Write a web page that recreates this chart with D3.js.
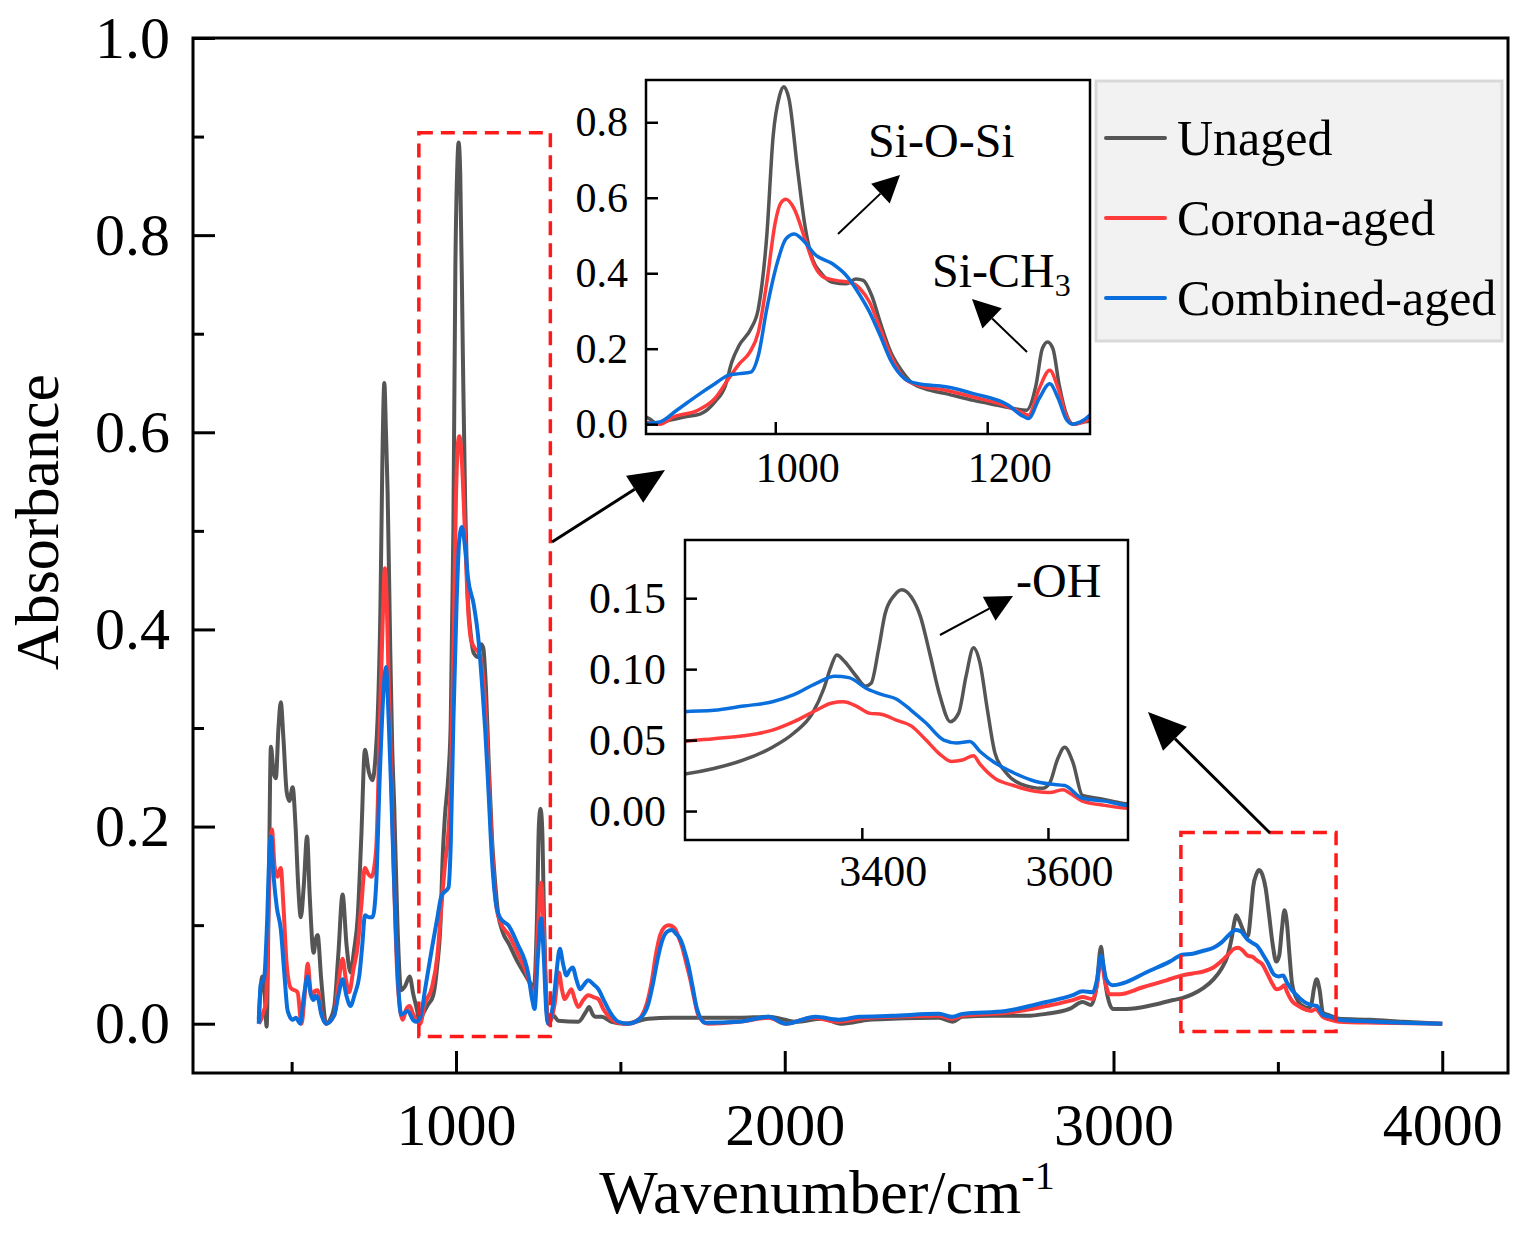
<!DOCTYPE html>
<html>
<head>
<meta charset="utf-8">
<script src="https://cdn.jsdelivr.net/npm/d3@7"></script>
<style>
  body { margin: 0; background: #fff; }
</style>
</head>
<body>
<div id="chart"></div>
<script>
// FTIR spectra, [wavenumber cm-1, absorbance]
const unaged = [
  [400,0.005],[411,0.048],[418,0.03],[424,-0.003],[430,0.12],[437,0.281],[445,0.255],[452,0.249],[460,0.3],[467,0.326],
  [475,0.29],[485,0.235],[493,0.226],[503,0.24],[512,0.2],[520,0.14],[528,0.108],[537,0.14],[547,0.19],[555,0.13],
  [567,0.072],[573,0.085],[579,0.09],[590,0.045],[605,0.0],[618,0.005],[630,0.018],[642,0.07],[655,0.131],[667,0.08],
  [679,0.052],[690,0.075],[701,0.108],[712,0.19],[723,0.278],[735,0.255],[746,0.247],[755,0.27],[762,0.313],[770,0.42],
  [776,0.57],[782,0.65],[787,0.6],[792,0.539],[800,0.38],[806,0.28],[812,0.222],[822,0.1],[833,0.034],[845,0.038],
  [859,0.048],[870,0.03],[882,0.013],[888,0.002],[901,0.011],[914,0.019],[930,0.028],[943,0.059],[953,0.103],[959,0.165],
  [966,0.209],[977,0.253],[984,0.306],[992,0.5],[998,0.764],[1004,0.87],[1008,0.894],[1013,0.861],[1021,0.676],[1028,0.526],
  [1034,0.447],[1044,0.398],[1054,0.376],[1067,0.372],[1076,0.385],[1083,0.381],[1091,0.341],[1099,0.27],[1109,0.191],[1119,0.143],
  [1128,0.112],[1141,0.094],[1161,0.081],[1187,0.063],[1210,0.05],[1226,0.041],[1237,0.037],[1246,0.103],[1252,0.2],[1257,0.218],
  [1262,0.2],[1268,0.103],[1275,0.024],[1281,0.0],[1291,0.006],[1297,0.008],[1311,0.003],[1372,0.002],[1395,0.012],[1405,0.017],
  [1415,0.01],[1423,0.007],[1443,0.007],[1473,0.002],[1514,0.0],[1585,0.005],[1656,0.006],[1758,0.006],[1860,0.006],[1951,0.007],
  [2000,0.004],[2033,0.002],[2114,0.005],[2175,0.0],[2256,0.004],[2327,0.005],[2469,0.006],[2510,0.002],[2540,0.007],[2632,0.008],
  [2734,0.008],[2795,0.01],[2866,0.015],[2906,0.022],[2932,0.019],[2949,0.039],[2962,0.078],[2970,0.055],[2978,0.035],[2998,0.015],
  [3039,0.015],[3120,0.019],[3181,0.024],[3209,0.026],[3241,0.03],[3273,0.036],[3304,0.045],[3327,0.055],[3347,0.069],[3359,0.086],
  [3367,0.102],[3373,0.11],[3382,0.105],[3394,0.095],[3404,0.088],[3410,0.09],[3418,0.114],[3425,0.139],[3435,0.152],[3443,0.156],
  [3453,0.151],[3463,0.137],[3473,0.111],[3484,0.081],[3495,0.063],[3504,0.069],[3512,0.095],[3520,0.115],[3527,0.104],[3535,0.071],
  [3543,0.041],[3555,0.027],[3571,0.019],[3594,0.016],[3602,0.02],[3610,0.036],[3618,0.045],[3627,0.034],[3637,0.011],[3653,0.009],
  [3669,0.007],[3686,0.005],[3781,0.004],[3882,0.002],[4000,0.0]
];

const corona = [
  [400,0.0],[408,0.005],[415,0.013],[422,0.02],[430,0.12],[440,0.197],[448,0.16],[457,0.149],[462,0.155],[467,0.158],
  [475,0.12],[485,0.06],[498,0.036],[518,0.032],[530,0.0],[540,0.03],[549,0.061],[557,0.035],[564,0.027],[570,0.033],
  [579,0.034],[590,0.012],[605,0.0],[630,0.009],[642,0.04],[655,0.066],[665,0.045],[675,0.032],[688,0.055],[701,0.079],
  [712,0.12],[723,0.158],[733,0.152],[743,0.149],[757,0.176],[768,0.3],[778,0.42],[784,0.462],[790,0.42],[795,0.35],
  [802,0.267],[812,0.14],[823,0.04],[838,0.004],[849,0.015],[859,0.018],[869,0.01],[879,0.004],[891,0.0],[904,0.019],
  [927,0.037],[943,0.068],[956,0.121],[966,0.16],[976,0.191],[984,0.244],[992,0.376],[1000,0.535],[1005,0.585],[1010,0.596],
  [1018,0.57],[1028,0.491],[1037,0.42],[1046,0.389],[1057,0.381],[1070,0.376],[1080,0.359],[1089,0.323],[1099,0.253],[1109,0.182],
  [1122,0.121],[1135,0.103],[1161,0.09],[1187,0.072],[1216,0.05],[1231,0.033],[1239,0.024],[1249,0.094],[1259,0.143],[1267,0.094],
  [1275,0.019],[1281,0.0],[1290,0.005],[1300,0.02],[1313,0.052],[1322,0.035],[1331,0.025],[1341,0.03],[1351,0.035],[1361,0.025],
  [1372,0.017],[1387,0.024],[1402,0.029],[1418,0.027],[1433,0.025],[1448,0.015],[1463,0.008],[1494,0.001],[1524,0.0],[1550,0.003],
  [1565,0.008],[1580,0.02],[1595,0.042],[1608,0.07],[1621,0.09],[1634,0.098],[1646,0.1],[1657,0.099],[1667,0.096],[1677,0.088],
  [1687,0.079],[1700,0.062],[1712,0.046],[1725,0.025],[1738,0.008],[1768,0.0],[1860,0.002],[1951,0.006],[2003,0.0],[2084,0.006],
  [2165,0.002],[2226,0.005],[2327,0.007],[2469,0.008],[2510,0.005],[2540,0.008],[2672,0.011],[2795,0.018],[2876,0.024],[2906,0.027],
  [2937,0.025],[2950,0.04],[2962,0.066],[2975,0.042],[2988,0.03],[3018,0.03],[3089,0.037],[3161,0.044],[3209,0.049],[3241,0.051],
  [3273,0.053],[3304,0.057],[3327,0.063],[3351,0.071],[3367,0.076],[3380,0.077],[3394,0.074],[3408,0.069],[3422,0.068],[3437,0.064],
  [3453,0.06],[3469,0.05],[3484,0.04],[3496,0.035],[3508,0.036],[3520,0.039],[3527,0.033],[3543,0.023],[3563,0.018],[3586,0.014],
  [3602,0.013],[3616,0.015],[3625,0.012],[3637,0.007],[3661,0.004],[3686,0.002],[3800,0.001],[4000,0.0]
];

const combined = [
  [400,0.0],[406,0.04],[416,0.045],[425,0.1],[432,0.17],[437,0.19],[445,0.15],[455,0.118],[467,0.096],[478,0.05],
  [488,0.013],[503,0.004],[513,0.006],[526,0.0],[538,0.03],[549,0.048],[558,0.03],[567,0.024],[573,0.028],[579,0.027],
  [590,0.01],[605,0.0],[630,0.009],[643,0.03],[655,0.045],[667,0.028],[679,0.018],[692,0.03],[706,0.049],[715,0.08],
  [723,0.11],[735,0.108],[746,0.108],[757,0.14],[768,0.25],[780,0.34],[787,0.362],[795,0.31],[802,0.245],[810,0.16],
  [818,0.086],[826,0.03],[833,0.009],[853,0.013],[869,0.004],[878,0.002],[891,0.006],[907,0.037],[927,0.077],[943,0.107],
  [956,0.13],[966,0.134],[977,0.138],[984,0.182],[992,0.306],[1002,0.429],[1010,0.491],[1018,0.504],[1028,0.482],[1037,0.451],
  [1054,0.425],[1067,0.394],[1080,0.341],[1089,0.297],[1099,0.235],[1109,0.169],[1122,0.121],[1135,0.107],[1161,0.099],[1187,0.081],
  [1220,0.05],[1232,0.024],[1239,0.015],[1249,0.068],[1259,0.107],[1267,0.068],[1275,0.011],[1281,0.0],[1288,0.006],[1297,0.024],
  [1305,0.05],[1316,0.076],[1326,0.06],[1336,0.049],[1345,0.054],[1355,0.057],[1366,0.045],[1377,0.035],[1390,0.04],[1402,0.044],
  [1418,0.04],[1433,0.035],[1448,0.025],[1463,0.015],[1494,0.002],[1524,0.0],[1565,0.007],[1585,0.02],[1600,0.042],[1613,0.065],
  [1626,0.083],[1641,0.093],[1656,0.095],[1670,0.091],[1682,0.086],[1695,0.074],[1707,0.059],[1720,0.037],[1733,0.015],[1758,0.001],
  [1860,0.002],[1951,0.007],[2003,0.0],[2094,0.007],[2165,0.004],[2226,0.007],[2327,0.008],[2469,0.01],[2510,0.007],[2540,0.01],
  [2672,0.013],[2795,0.022],[2876,0.029],[2906,0.033],[2937,0.032],[2950,0.045],[2962,0.069],[2978,0.045],[2998,0.039],[3028,0.041],
  [3099,0.052],[3171,0.063],[3209,0.07],[3241,0.071],[3273,0.074],[3304,0.077],[3327,0.082],[3351,0.09],[3371,0.095],[3386,0.094],
  [3406,0.086],[3422,0.082],[3437,0.079],[3453,0.071],[3469,0.062],[3488,0.05],[3502,0.048],[3516,0.049],[3527,0.042],[3543,0.034],
  [3563,0.027],[3586,0.021],[3602,0.019],[3618,0.018],[3637,0.009],[3661,0.007],[3686,0.004],[3800,0.002],[4000,0.0]
];

const seriesNames = ["Unaged", "Corona-aged", "Combined-aged"];

// tick values
const xMajor = [1000, 2000, 3000, 4000];
const xMinor = [500, 1500, 2500, 3500];
const yMajor = [0, 0.2, 0.4, 0.6, 0.8, 1.0];
const yMinor = [0.1, 0.3, 0.5, 0.7, 0.9];
const inset1XTicks = [1000, 1200];
const inset1YTicks = [0, 0.2, 0.4, 0.6, 0.8];
const inset2XTicks = [3400, 3600];
const inset2YTicks = [0, 0.05, 0.1, 0.15];

const FONT = "'Liberation Serif','Times New Roman',serif";
const colors = ["#555555", "#ff3b3b", "#0a6fdc"];
const allSeries = [unaged, corona, combined];

const W = 1528, H = 1236;
const svg = d3.select("#chart").append("svg")
    .attr("width", W)
    .attr("height", H)
    .style("font-family", FONT);

// main plot frame
const main = {left: 193, right: 1508, top: 38, bottom: 1073};

const x = d3.scaleLinear().domain([200, 4200]).range([main.left, main.right]);
const y = d3.scaleLinear().domain([-0.05, 1.0]).range([main.bottom, main.top]);

function styleAxis(g, size) {
    g.select(".domain").remove();
    g.attr("font-family", FONT).attr("font-size", size);
    g.selectAll("line").attr("stroke", "#000").attr("stroke-width", 3);
    g.selectAll("text").attr("fill", "#000");
}

svg.append("clipPath").attr("id", "clipMain")
    .append("rect")
    .attr("x", main.left).attr("y", main.top)
    .attr("width", main.right - main.left).attr("height", main.bottom - main.top);

const line = d3.line()
    .x(d => x(d[0]))
    .y(d => y(d[1]))
    .curve(d3.curveMonotoneX);

svg.append("g").attr("clip-path", "url(#clipMain)")
    .selectAll("path")
    .data(allSeries)
    .join("path")
    .attr("d", line)
    .attr("fill", "none")
    .attr("stroke", (d, i) => colors[i])
    .attr("stroke-width", 4)
    .attr("stroke-linejoin", "round");

// axes, ticks pointing inward
svg.append("g")
    .attr("transform", `translate(0,${main.bottom})`)
    .call(d3.axisBottom(x).tickValues(xMajor).tickSize(-22).tickSizeOuter(0).tickPadding(29).tickFormat(d3.format("d")))
    .call(g => styleAxis(g, 60));
svg.append("g")
    .attr("transform", `translate(0,${main.bottom})`)
    .call(d3.axisBottom(x).tickValues(xMinor).tickSize(-11).tickSizeOuter(0).tickFormat(""))
    .call(g => styleAxis(g, 60));
svg.append("g")
    .attr("transform", `translate(${main.left},0)`)
    .call(d3.axisLeft(y).tickValues(yMajor).tickSize(-22).tickSizeOuter(0).tickPadding(23).tickFormat(d3.format(".1f")))
    .call(g => styleAxis(g, 60));
svg.append("g")
    .attr("transform", `translate(${main.left},0)`)
    .call(d3.axisLeft(y).tickValues(yMinor).tickSize(-11).tickSizeOuter(0).tickFormat(""))
    .call(g => styleAxis(g, 60));

svg.append("rect")
    .attr("x", main.left).attr("y", main.top)
    .attr("width", main.right - main.left).attr("height", main.bottom - main.top)
    .attr("fill", "none").attr("stroke", "#000").attr("stroke-width", 3);

// axis titles
svg.append("text")
    .attr("transform", `translate(58,522) rotate(-90)`)
    .attr("text-anchor", "middle")
    .attr("font-size", 62)
    .text("Absorbance");

const xt = svg.append("text")
    .attr("x", 827).attr("y", 1213)
    .attr("text-anchor", "middle")
    .attr("font-size", 62);
xt.append("tspan").text("Wavenumber/cm");
xt.append("tspan").attr("dy", -24).attr("font-size", 40).text("-1");

// red dashed zoom regions (in data units)
const zoomBoxes = [
    {x0: 887, x1: 1287, y0: -0.013, y1: 0.904},
    {x0: 3205, x1: 3677, y0: -0.008, y1: 0.194}
];
svg.selectAll(".zoombox")
    .data(zoomBoxes)
    .join("rect")
    .attr("x", d => x(d.x0)).attr("y", d => y(d.y1))
    .attr("width", d => x(d.x1) - x(d.x0)).attr("height", d => y(d.y0) - y(d.y1))
    .attr("fill", "none")
    .attr("stroke", "#ff1a1a")
    .attr("stroke-width", 3.5)
    .attr("stroke-dasharray", "14,8");

// insets
function drawInset(cfg) {
    const b = cfg.box;
    const ix = d3.scaleLinear().domain(cfg.xDomain).range([b.left, b.right]);
    const iy = d3.scaleLinear().domain(cfg.yDomain).range([b.bottom, b.top]);

    svg.append("rect")
        .attr("x", b.left).attr("y", b.top)
        .attr("width", b.right - b.left).attr("height", b.bottom - b.top)
        .attr("fill", "#fff");

    svg.append("clipPath").attr("id", cfg.id)
        .append("rect")
        .attr("x", b.left).attr("y", b.top)
        .attr("width", b.right - b.left).attr("height", b.bottom - b.top);

    const iline = d3.line()
        .x(d => ix(d[0]))
        .y(d => iy(d[1]))
        .curve(d3.curveMonotoneX);

    svg.append("g").attr("clip-path", `url(#${cfg.id})`)
        .selectAll("path")
        .data(allSeries)
        .join("path")
        .attr("d", iline)
        .attr("fill", "none")
        .attr("stroke", (d, i) => colors[i])
        .attr("stroke-width", 3.5)
        .attr("stroke-linejoin", "round");

    svg.append("g")
        .attr("transform", `translate(0,${b.bottom})`)
        .call(d3.axisBottom(ix).tickValues(cfg.xTicks).tickSize(-12).tickSizeOuter(0)
            .tickPadding(cfg.xPad).tickFormat(d3.format("d")))
        .call(g => styleAxis(g, cfg.font))
        .call(g => g.selectAll("line").attr("stroke-width", 2.5))
        .call(g => g.selectAll("text").attr("dx", cfg.labelDx));

    svg.append("g")
        .attr("transform", `translate(${b.left},0)`)
        .call(d3.axisLeft(iy).tickValues(cfg.yTicks).tickSize(-12).tickSizeOuter(0)
            .tickPadding(cfg.yPad).tickFormat(d3.format(cfg.yFormat)))
        .call(g => styleAxis(g, cfg.font))
        .call(g => g.selectAll("line").attr("stroke-width", 2.5));

    svg.append("rect")
        .attr("x", b.left).attr("y", b.top)
        .attr("width", b.right - b.left).attr("height", b.bottom - b.top)
        .attr("fill", "none").attr("stroke", "#000").attr("stroke-width", 2.5);
}

drawInset({
    id: "clipInset1",
    box: {left: 646, right: 1090, top: 80, bottom: 434},
    xDomain: [878, 1297], yDomain: [-0.026, 0.912],
    xTicks: inset1XTicks, yTicks: inset1YTicks, yFormat: ".1f",
    font: 42, xPad: 18, yPad: 18, labelDx: 22
});

drawInset({
    id: "clipInset2",
    box: {left: 685, right: 1128, top: 540, bottom: 840},
    xDomain: [3210, 3686], yDomain: [-0.0204, 0.191],
    xTicks: inset2XTicks, yTicks: inset2YTicks, yFormat: ".2f",
    font: 44, xPad: 15, yPad: 19, labelDx: 21
});

// legend
const legend = svg.append("g");
legend.append("rect")
    .attr("x", 1096).attr("y", 81).attr("width", 406).attr("height", 260)
    .attr("fill", "#f2f2f2").attr("stroke", "#d9d9d9").attr("stroke-width", 3);
seriesNames.forEach((name, i) => {
    const ly = 138 + i * 80;
    legend.append("line")
        .attr("x1", 1106).attr("x2", 1165).attr("y1", ly).attr("y2", ly)
        .attr("stroke", colors[i]).attr("stroke-width", 4).attr("stroke-linecap", "round");
    legend.append("text")
        .attr("x", 1177).attr("y", ly + 17)
        .attr("font-size", 50)
        .text(name);
});

// arrows: straight line with filled triangular head at (x2,y2)
function arrow(x1, y1, x2, y2, headLen, headW, sw) {
    const a = Math.atan2(y2 - y1, x2 - x1);
    const bx = x2 - headLen * Math.cos(a), by = y2 - headLen * Math.sin(a);
    const nx = -Math.sin(a) * headW / 2, ny = Math.cos(a) * headW / 2;
    svg.append("line")
        .attr("x1", x1).attr("y1", y1).attr("x2", bx).attr("y2", by)
        .attr("stroke", "#000").attr("stroke-width", sw);
    svg.append("path")
        .attr("d", `M${x2},${y2}L${bx + nx},${by + ny}L${bx - nx},${by - ny}Z`)
        .attr("fill", "#000");
}

arrow(838, 234, 900, 175, 27, 27, 2);
arrow(1027, 352, 972, 299, 28, 28, 2);
arrow(940, 635, 1013, 596, 27, 27, 2);
arrow(552, 542, 665, 470, 36, 32, 3);
arrow(1270, 833, 1148, 712, 38, 34, 3);

// peak labels
svg.append("text").attr("x", 868).attr("y", 157).attr("font-size", 48).text("Si-O-Si");
const ch3 = svg.append("text").attr("x", 932).attr("y", 287).attr("font-size", 48);
ch3.append("tspan").text("Si-CH");
ch3.append("tspan").attr("dy", 9).attr("font-size", 32).text("3");
svg.append("text").attr("x", 1016).attr("y", 597).attr("font-size", 48).text("-OH");
</script>
</body>
</html>
